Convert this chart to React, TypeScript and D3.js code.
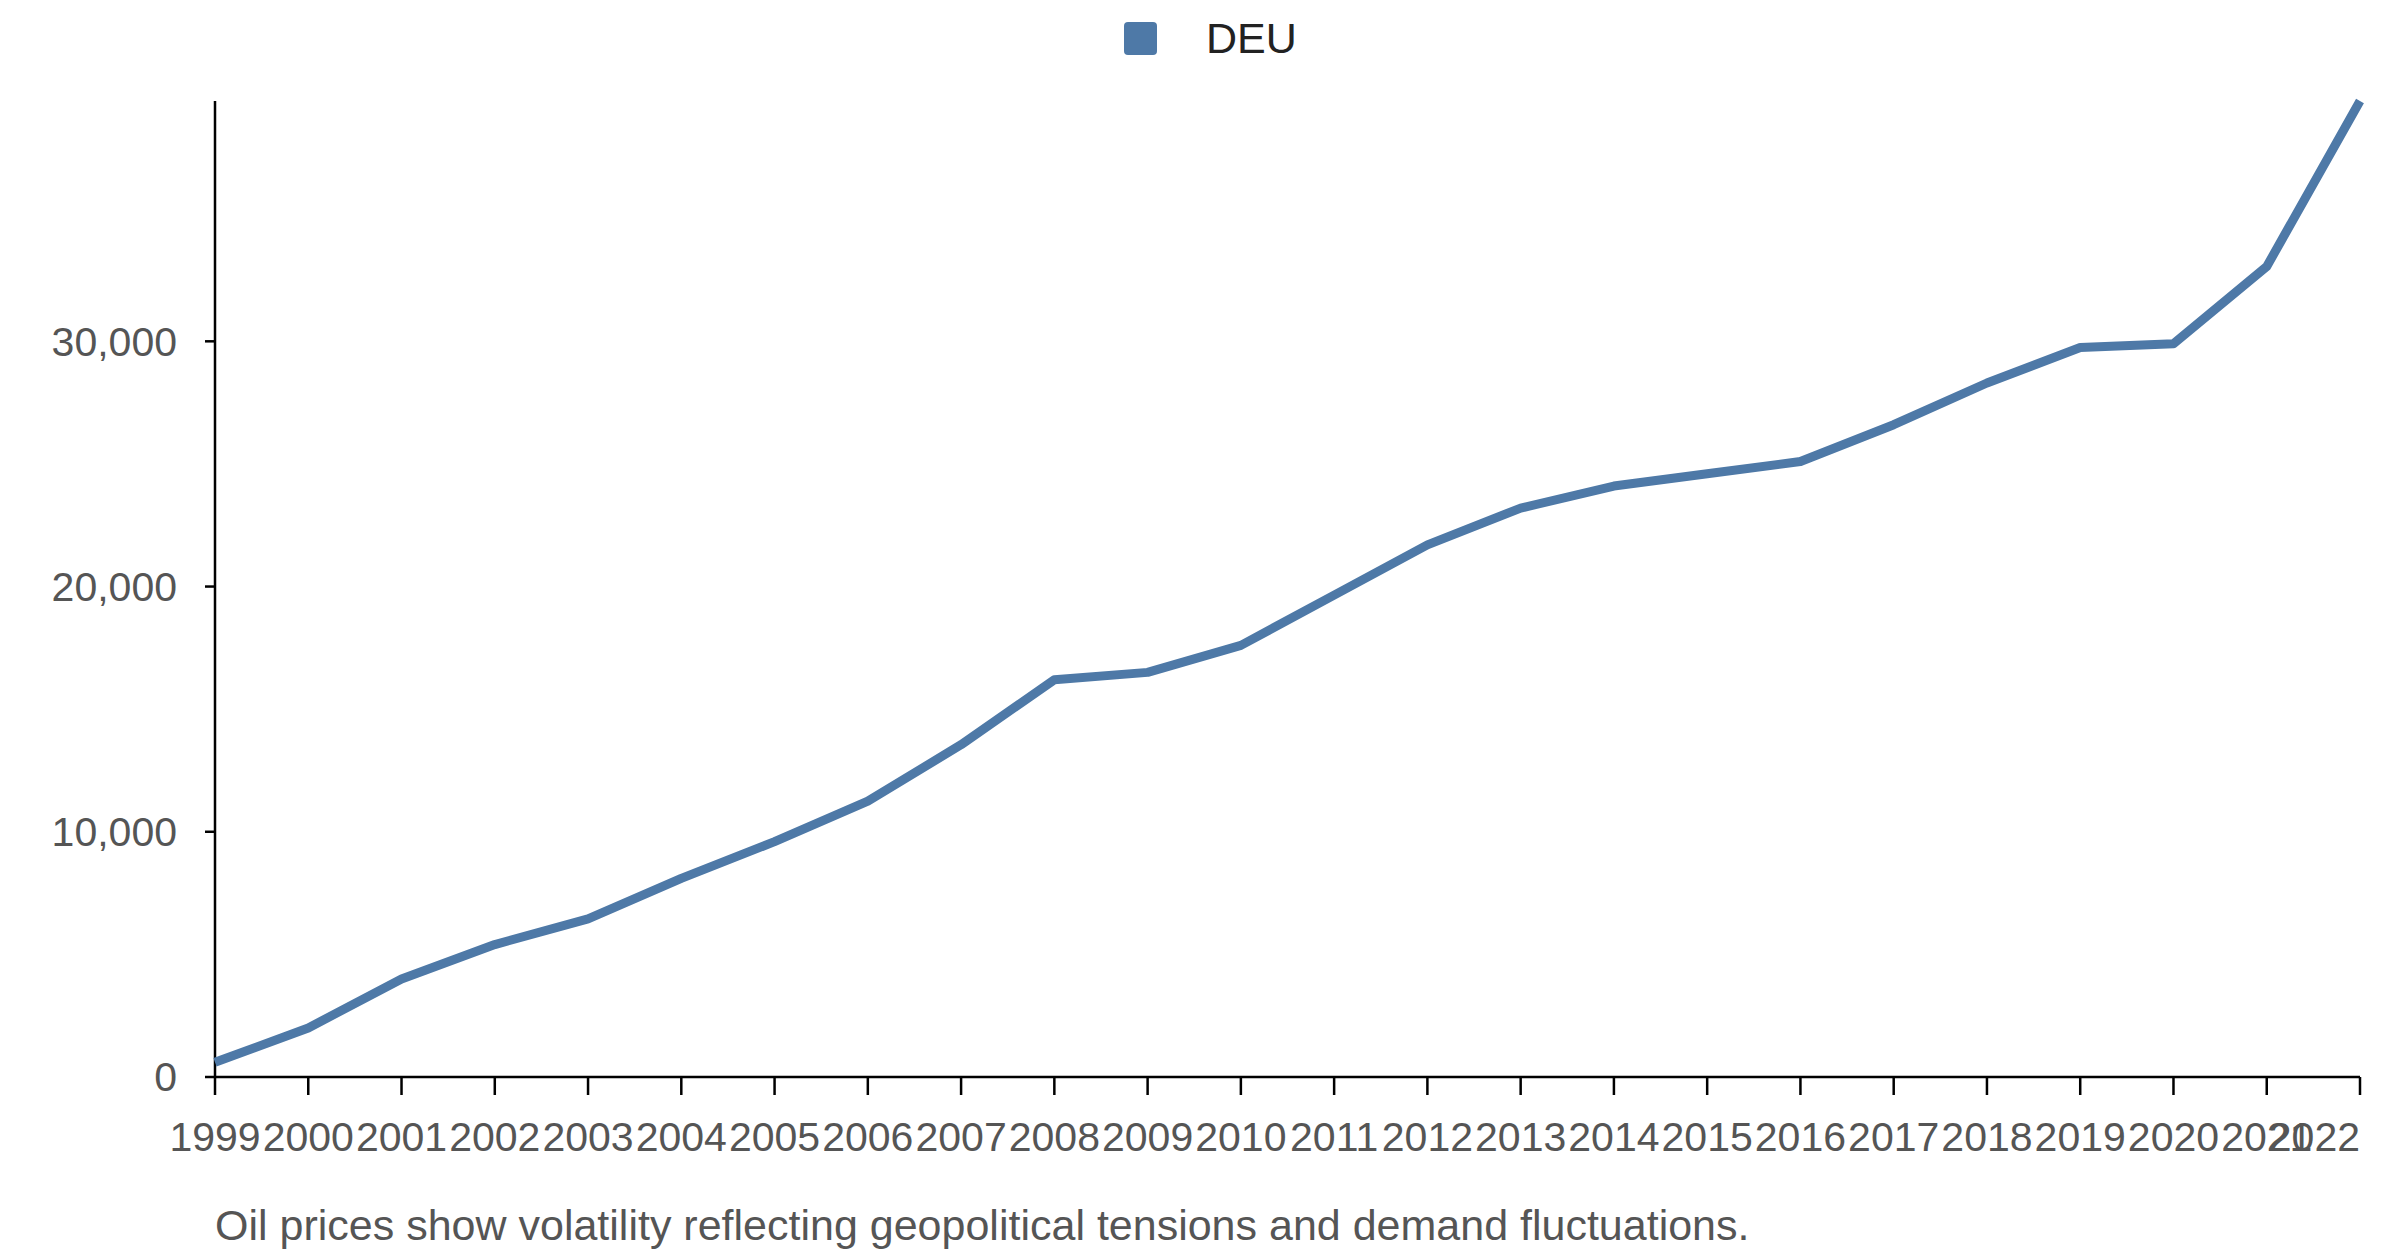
import * as d3 from "d3";

const years = [
  "1999", "2000", "2001", "2002", "2003", "2004", "2005", "2006", "2007", "2008", "2009", "2010",
  "2011", "2012", "2013", "2014", "2015", "2016", "2017", "2018", "2019", "2020", "2021", "2022",
];
const deu = [
  600, 2000, 4000, 5400, 6450, 8100, 9600, 11250, 13550, 16200, 16500, 17600,
  19650, 21700, 23200, 24100, 24600, 25100, 26600, 28300, 29750, 29900, 33050, 39800,
];
const yTicks = [0, 10000, 20000, 30000];
const caption = "Oil prices show volatility reflecting geopolitical tensions and demand fluctuations.";

const W = 2400;
const H = 1256;
const m = { left: 215, right: 2360, top: 101, bottom: 1077 };
const color = "#4e79a7";
const font = "Liberation Sans, Arial, sans-serif";

export default function App() {
  const x = d3.scalePoint<string>().domain(years).range([m.left, m.right]);
  const y = d3.scaleLinear().domain([0, d3.max(deu)!]).range([m.bottom, m.top]);
  const line = d3
    .line<number>()
    .x((_, i) => x(years[i])!)
    .y((d) => y(d));
  const fmt = d3.format(",");
  const last = years[years.length - 1];

  return (
    <svg width={W} height={H} style={{ display: "block", position: "absolute", left: 0, top: 0 }} fontFamily={font}>
      <rect x={1124} y={22} width={33} height={33} rx={4} fill={color} />
      <text x={1206} y={38} dy="0.35em" fontSize={43} fill="#222">DEU</text>

      <line x1={m.left} x2={m.left} y1={m.top} y2={m.bottom} stroke="#000" strokeWidth={2.5} />
      {yTicks.map((t) => (
        <g key={t}>
          <line x1={m.left - 10} x2={m.left} y1={y(t)} y2={y(t)} stroke="#000" strokeWidth={2.5} />
          <text x={m.left - 38} y={y(t)} dy="0.35em" textAnchor="end" fontSize={41} fill="#555">
            {fmt(t)}
          </text>
        </g>
      ))}

      <line x1={m.left} x2={m.right} y1={m.bottom} y2={m.bottom} stroke="#000" strokeWidth={2.5} />
      {years.map((yr) => (
        <g key={yr}>
          <line x1={x(yr)} x2={x(yr)} y1={m.bottom} y2={m.bottom + 18} stroke="#000" strokeWidth={2.5} />
          <text
            x={x(yr)}
            y={m.bottom + 74}
            textAnchor={yr === last ? "end" : "middle"}
            fontSize={41}
            fill="#555"
          >
            {yr}
          </text>
        </g>
      ))}

      <path d={line(deu)!} fill="none" stroke={color} strokeWidth={9} strokeLinejoin="round" />

      <text x={m.left} y={1240} fontSize={43} fill="#555">{caption}</text>
    </svg>
  );
}
